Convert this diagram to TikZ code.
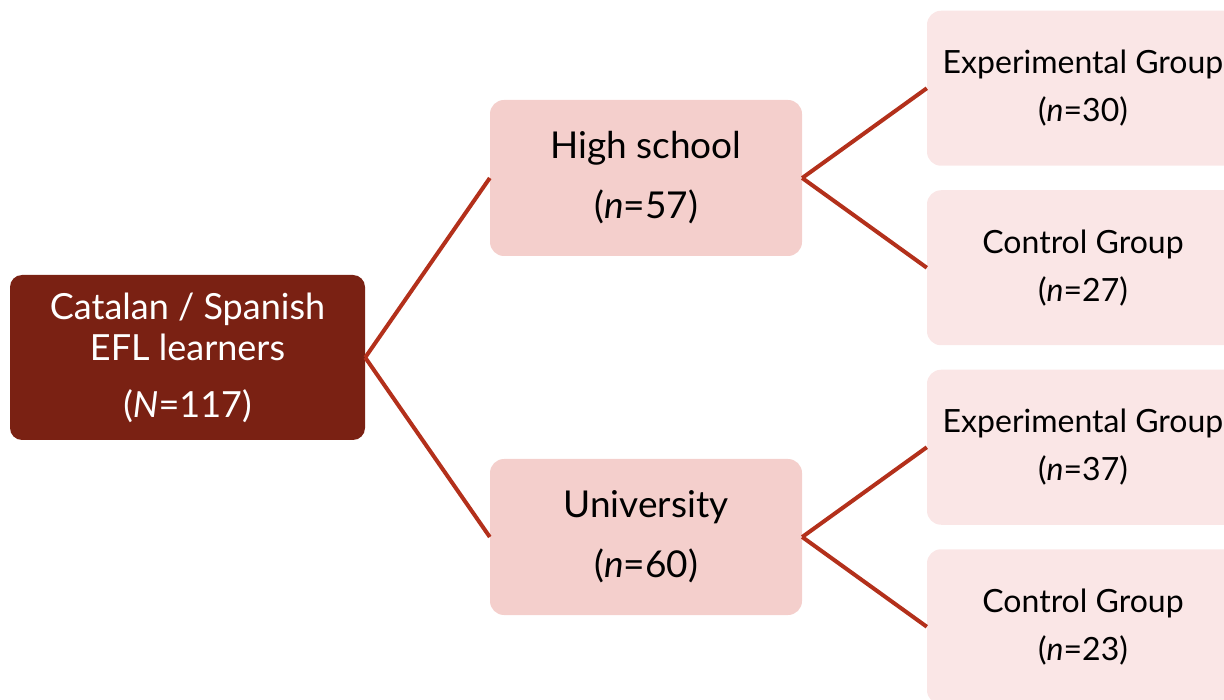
\documentclass[tikz,border=0pt]{standalone}
\usepackage{fontspec}
\setmainfont{Lato}
\definecolor{rootred}{HTML}{7A2113}
\definecolor{midpink}{HTML}{F4CFCC}
\definecolor{lightpink}{HTML}{FAE6E6}
\definecolor{linkred}{HTML}{B3301B}
\tikzset{
  rootbox/.style={fill=rootred, text=white, rounded corners=12pt, minimum width=355pt,
    minimum height=165pt, inner sep=0pt, align=center, font=\fontsize{36}{41}\selectfont},
  schoolbox/.style={fill=midpink, rounded corners=14pt, minimum width=312pt,
    minimum height=156pt, inner sep=0pt, align=center, font=\fontsize{37}{60}\selectfont},
  groupbox/.style={fill=lightpink, rounded corners=14pt, minimum width=312pt,
    minimum height=155pt, inner sep=0pt, align=center, font=\fontsize{32}{48}\selectfont}
}
\begin{document}
\begin{tikzpicture}[x=1pt,y=1pt,grow'=right,
            parent anchor=east, child anchor=west,
            edge from parent/.style={draw=linkred, line width=4pt},
            level 1/.style={level distance=458.5pt, sibling distance=359pt},
            level 2/.style={level distance=437pt, sibling distance=179.5pt}]
  \useasboundingbox (0,0) rectangle (1224,-700);
  \clip (0,0) rectangle (1224,-700);
  \node[rootbox] (learners) at (187.5,-357.5) {Catalan / Spanish\\EFL learners\\[16pt](\textit{N}=117)}
    child {node[schoolbox] (highschool) {High school\\(\textit{n}=57)}
      child {node[groupbox] (hsexp) {Experimental Group\\(\textit{n}=30)}}
      child {node[groupbox] (hsctrl) {Control Group\\(\textit{n}=27)}}
    }
    child {node[schoolbox] (university) {University\\(\textit{n}=60)}
      child {node[groupbox] (uniexp) {Experimental Group\\(\textit{n}=37)}}
      child {node[groupbox] (unictrl) {Control Group\\(\textit{n}=23)}}
    };
\end{tikzpicture}
\end{document}
